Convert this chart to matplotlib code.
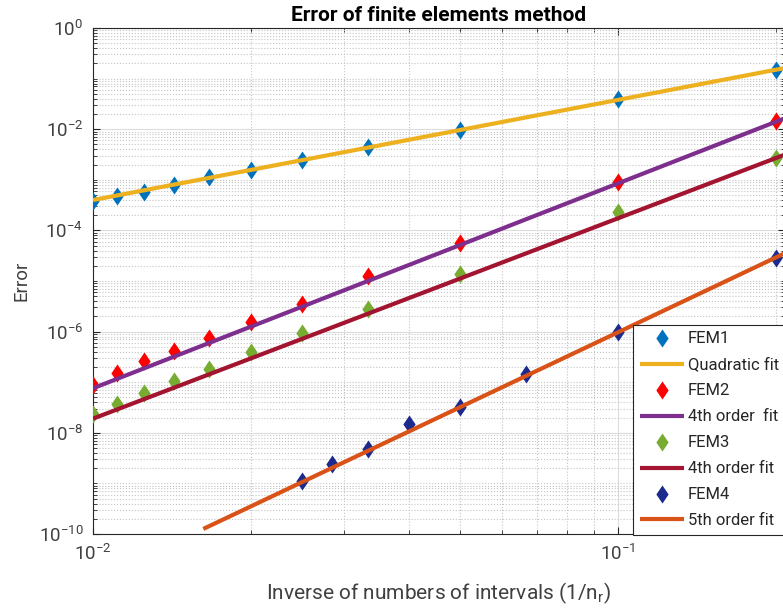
import matplotlib
matplotlib.use("Agg")
import matplotlib.pyplot as plt
from matplotlib.ticker import LogLocator, NullFormatter
import numpy as np

plt.rcParams['font.family'] = ['Roboto', 'DejaVu Sans']
plt.rcParams['mathtext.fontset'] = 'custom'
plt.rcParams['mathtext.rm'] = 'Roboto'
plt.rcParams['mathtext.it'] = 'Roboto:italic'

# step sizes h = 1/n_r
h_fine = [1/100, 1/90, 1/80, 1/70, 1/60, 1/50, 1/40, 1/30, 1/20, 1/10, 1/5]
h_fem4 = [1/40, 1/35, 1/30, 1/25, 1/20, 1/15, 1/10, 1/5]

# measured errors
err_fem1 = [3.8e-4, 4.8e-4, 5.8e-4, 7.8e-4, 1.14e-3, 1.56e-3, 2.46e-3, 4.5e-3, 9.7e-3, 3.9e-2, 1.5e-1]
err_fem2 = [8.9e-8, 1.5e-7, 2.6e-7, 4.1e-7, 7.5e-7, 1.55e-6, 3.5e-6, 1.25e-5, 5.7e-5, 9.2e-4, 1.42e-2]
err_fem3 = [2.4e-8, 3.7e-8, 6.0e-8, 1.04e-7, 1.8e-7, 4.0e-7, 9.5e-7, 2.85e-6, 1.4e-5, 2.3e-4, 2.7e-3]
err_fem4 = [1.1e-9, 2.4e-9, 4.8e-9, 1.5e-8, 3.3e-8, 1.43e-7, 9.8e-7, 2.9e-5]

# power-law fits  err = a * h^p,  drawn from h_start onwards
fit_a = [3.63, 9.55, 1.585, 0.0807]
fit_p = [1.98, 4.05, 3.96, 4.92]
fit_start = [0.01, 0.01, 0.01, 0.01622]
h_end = 0.21

names = ['FEM1', 'FEM2', 'FEM3', 'FEM4']
fit_names = ['Quadratic fit', '4th order  fit', '4th order fit', '5th order fit']
pt_colors = ['#0072BD', '#FF0000', '#77AC30', '#1B2A8C']
fit_colors = ['#EDB120', '#7E2F8E', '#A2142F', '#D95319']

W, H = 783, 611
fig = plt.figure(figsize=(W/100, H/100), dpi=100)
ax = fig.add_axes([93/W, 1 - 534/H, 1 - 93/W + 0.002, (534 - 28)/H])

diamond = [(0, 1), (0.68, 0), (0, -1), (-0.68, 0), (0, 1)]

xs = [h_fine, h_fine, h_fine, h_fem4]
ys = [err_fem1, err_fem2, err_fem3, err_fem4]
for i in range(4):
    ax.plot(xs[i], ys[i], linestyle='none', marker=diamond, markersize=13,
            color=pt_colors[i], markeredgewidth=0, label=names[i], zorder=3)
    hx = np.array([fit_start[i], h_end])
    ax.plot(hx, fit_a[i] * hx**fit_p[i], color=fit_colors[i], linewidth=3,
            label=fit_names[i], zorder=4, solid_capstyle='butt')

ax.set_xscale('log')
ax.set_yscale('log')
ax.set_xlim(0.01, 0.2075)
ax.set_ylim(1e-10, 1)

ax.set_yticks([1e0, 1e-2, 1e-4, 1e-6, 1e-8, 1e-10])
ax.yaxis.set_minor_locator(LogLocator(base=10, subs=np.arange(1, 10), numticks=100))
ax.yaxis.set_minor_formatter(NullFormatter())
ax.set_xticks([1e-2, 1e-1])
ax.xaxis.set_minor_locator(LogLocator(base=10, subs=np.arange(1, 10), numticks=100))
ax.xaxis.set_minor_formatter(NullFormatter())

ax.grid(True, which='major', color='#dcdcdc', linestyle='-', linewidth=0.8)
ax.grid(True, which='minor', color='#c4c4c4', linestyle=':', linewidth=0.8)
ax.set_axisbelow(True)

for s in ax.spines.values():
    s.set_color('#262626')
    s.set_linewidth(0.8)
ax.tick_params(which='both', direction='in', top=True, right=True, colors='#262626',
               labelcolor='#404040', labelsize=13.5, pad=7)
ax.tick_params(which='major', length=5)
ax.tick_params(which='minor', length=3)

ax.set_title('Error of finite elements method', fontsize=15, fontweight='bold', pad=5)
ax.set_xlabel('Inverse of numbers of intervals (1/n$_\\mathrm{r}$)', fontsize=15,
              color='#404040', labelpad=12)
ax.set_ylabel('Error', fontsize=13.5, color='#404040', labelpad=6)

leg = ax.legend(loc='lower left', bbox_to_anchor=(633/W, 1 - 535/H),
                bbox_transform=fig.transFigure, borderaxespad=0, fontsize=12,
                fancybox=False, framealpha=1, edgecolor='#262626',
                handlelength=2.65, handletextpad=0.25, labelspacing=0.66,
                borderpad=0.4, numpoints=1)
leg.get_frame().set_linewidth(0.8)
for t in leg.get_texts():
    t.set_color('#262626')

fig.savefig('out.png', dpi=100)
